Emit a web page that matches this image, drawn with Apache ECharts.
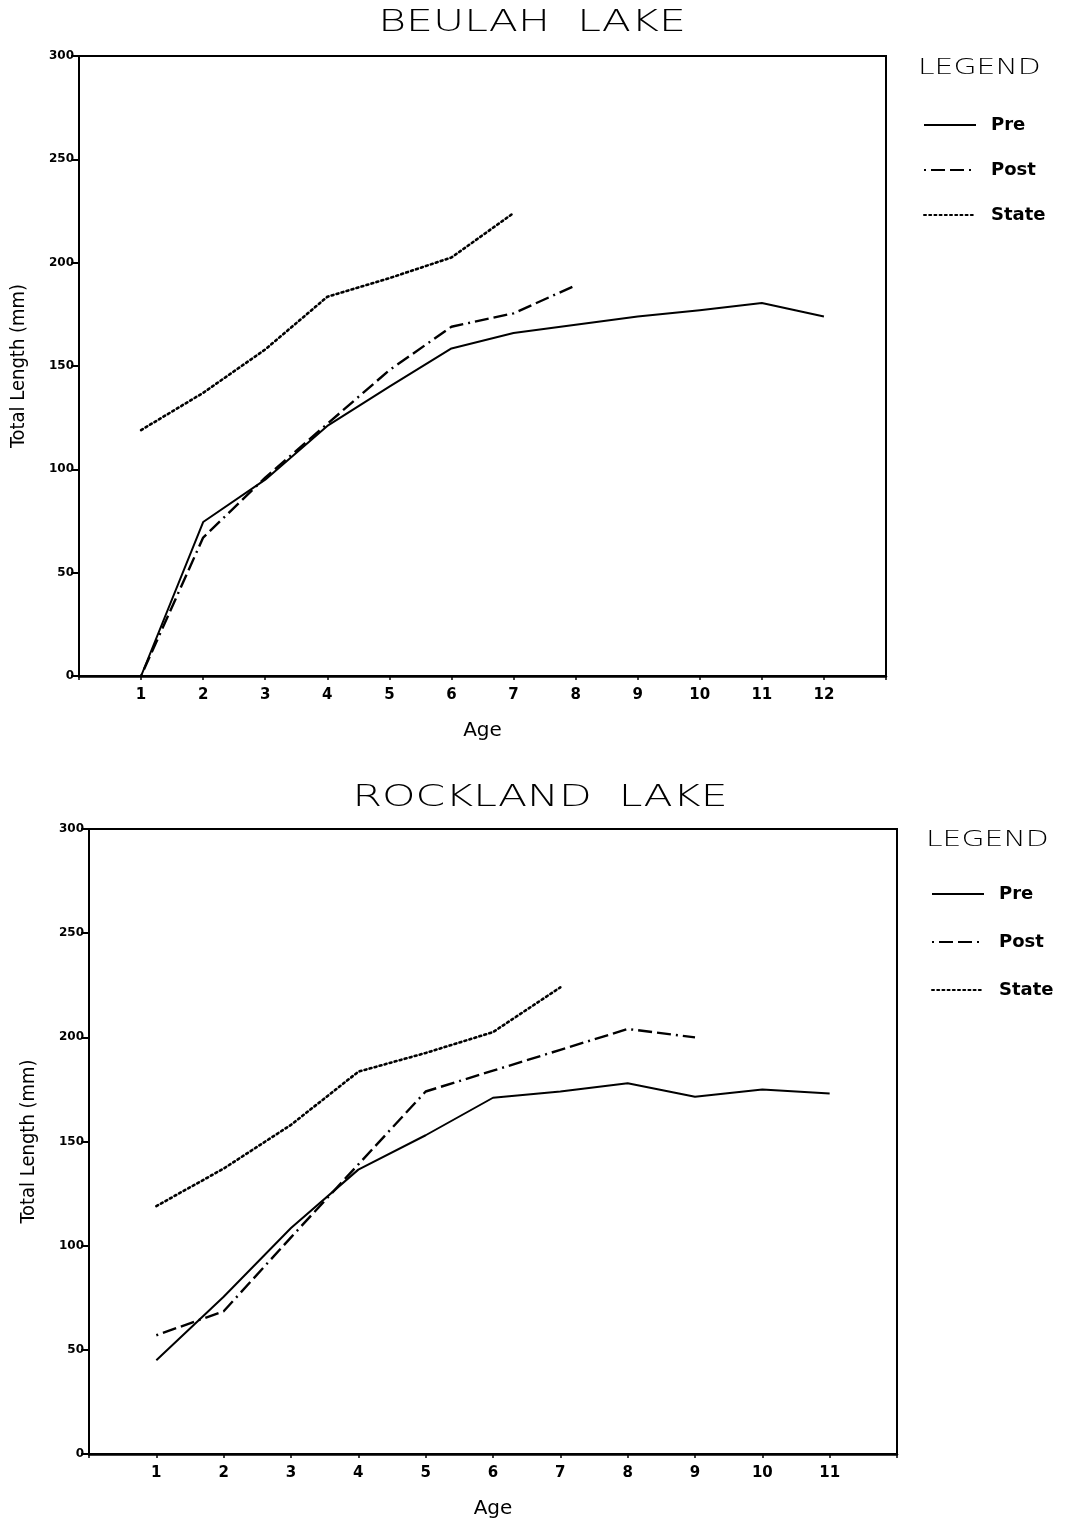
<!DOCTYPE html>
<html>
<head>
<meta charset="utf-8">
<script src="https://cdn.jsdelivr.net/npm/echarts@6/dist/echarts.min.js"></script>
<style>
  html, body { margin: 0; padding: 0; background: #fff; }
  #chart { width: 1073px; height: 1520px; }
</style>
</head>
<body>
<div id="chart"></div>
<script>
// Mean total length (mm) at age, before and after, with the state average
const beulahAges = [1, 2, 3, 4, 5, 6, 7, 8, 9, 10, 11, 12];
const beulahPre  = [0, 74.5, 95, 121, 140, 158.5, 166, 170, 174, 177, 180.5, 174];
const beulahPost = [0, 67, 96, 122, 148, 169, 175.5, 189];

const rocklandAges = [1, 2, 3, 4, 5, 6, 7, 8, 9, 10, 11];
const rocklandPre  = [45, 75.5, 108.5, 136.5, 153, 171, 174, 178, 171.5, 175, 173];
const rocklandPost = [57, 68.5, 104, 139, 174, 184, 194, 204, 200];

const stateAges = [1, 2, 3, 4, 5, 6, 7];
const stateMean = [119, 137, 158, 183.5, 192.5, 202.5, 224];

const yTicks = [0, 50, 100, 150, 200, 250, 300];

const pairs = (xs, ys) => ys.map((v, i) => [xs[i], v]);

const styles = {
  Pre:   { type: 'solid', width: 2 },
  Post:  { type: [2, 5, 14, 5, 14, 5], width: 2.4, cap: 'butt' },
  State: { type: [2, 3.2], width: 2.6, cap: 'round' }
};

function lineSeries(name, idx, data) {
  return {
    name: name,
    type: 'line',
    xAxisIndex: idx,
    yAxisIndex: idx,
    data: data,
    symbol: 'none',
    animation: false,
    silent: true,
    lineStyle: Object.assign({ color: '#000', join: 'round' }, styles[name]),
    itemStyle: { color: '#000' }
  };
}

const tickFont = { color: '#000', fontFamily: 'DejaVu Sans', fontWeight: 'bold' };

function xAxis(idx, maxAge) {
  return {
    type: 'value', gridIndex: idx, min: 0, max: maxAge + 1, interval: 1,
    name: 'Age', nameLocation: 'middle', nameGap: 45,
    nameTextStyle: { color: '#000', fontFamily: 'DejaVu Sans', fontSize: 20 },
    axisLine: { lineStyle: { color: '#000', width: 2.5 } },
    axisTick: { length: 4, lineStyle: { color: '#000', width: 1.5 } },
    splitLine: { show: false },
    axisLabel: Object.assign({}, tickFont, {
      fontSize: 15, margin: 12,
      formatter: v => (v >= 1 && v <= maxAge) ? String(v) : ''
    })
  };
}

function yAxis(idx) {
  return {
    type: 'value', gridIndex: idx, min: yTicks[0], max: yTicks[yTicks.length - 1], interval: 50,
    name: 'Total Length (mm)', nameLocation: 'middle', nameGap: 50, nameRotate: 90,
    nameTextStyle: { color: '#000', fontFamily: 'DejaVu Sans Condensed', fontSize: 20 },
    axisLine: { show: true, lineStyle: { color: '#000', width: 2 } },
    axisTick: { show: true, length: 8, lineStyle: { color: '#000', width: 2 } },
    splitLine: { show: false },
    axisLabel: Object.assign({}, tickFont, { fontSize: 12, margin: 5 })
  };
}

function legend(left, top, gap) {
  return {
    left: left, top: top, orient: 'vertical',
    data: ['Pre', 'Post', 'State'],
    itemWidth: 52, itemHeight: 16, itemGap: gap,
    selectedMode: false,
    itemStyle: { opacity: 0 },
    textStyle: { color: '#000', fontFamily: 'DejaVu Sans', fontWeight: 'bold', fontSize: 18, padding: [0, 0, 0, 10] }
  };
}

function wideText(text, x, y, size, align) {
  return {
    type: 'text', x: x, y: y, scaleX: 1.42, silent: true,
    style: {
      text: text, fill: '#000', textAlign: align, textVerticalAlign: 'middle',
      font: '200 ' + size + 'px "DejaVu Sans"'
    }
  };
}

const option = {
  backgroundColor: '#fff',
  animation: false,
  graphic: [
    wideText('BEULAH  LAKE', 532, 23, 30, 'center'),
    wideText('ROCKLAND  LAKE', 540, 798, 30, 'center'),
    wideText('LEGEND', 918, 69, 21, 'left'),
    wideText('LEGEND', 926, 841, 21, 'left')
  ],
  legend: [legend(918, 111, 27), legend(926, 880, 30)],
  grid: [
    { left: 79, top: 56, width: 807, height: 620, show: true, borderColor: '#000', borderWidth: 2 },
    { left: 89, top: 829, width: 808, height: 625, show: true, borderColor: '#000', borderWidth: 2 }
  ],
  xAxis: [xAxis(0, 12), xAxis(1, 11)],
  yAxis: [yAxis(0), yAxis(1)],
  series: [
    lineSeries('Pre', 0, pairs(beulahAges, beulahPre)),
    lineSeries('Post', 0, pairs(beulahAges, beulahPost)),
    lineSeries('State', 0, pairs(stateAges, stateMean)),
    lineSeries('Pre', 1, pairs(rocklandAges, rocklandPre)),
    lineSeries('Post', 1, pairs(rocklandAges, rocklandPost)),
    lineSeries('State', 1, pairs(stateAges, stateMean))
  ]
};

const chart = echarts.init(document.getElementById('chart'), null, { renderer: 'canvas' });
chart.setOption(option);
</script>
</body>
</html>
